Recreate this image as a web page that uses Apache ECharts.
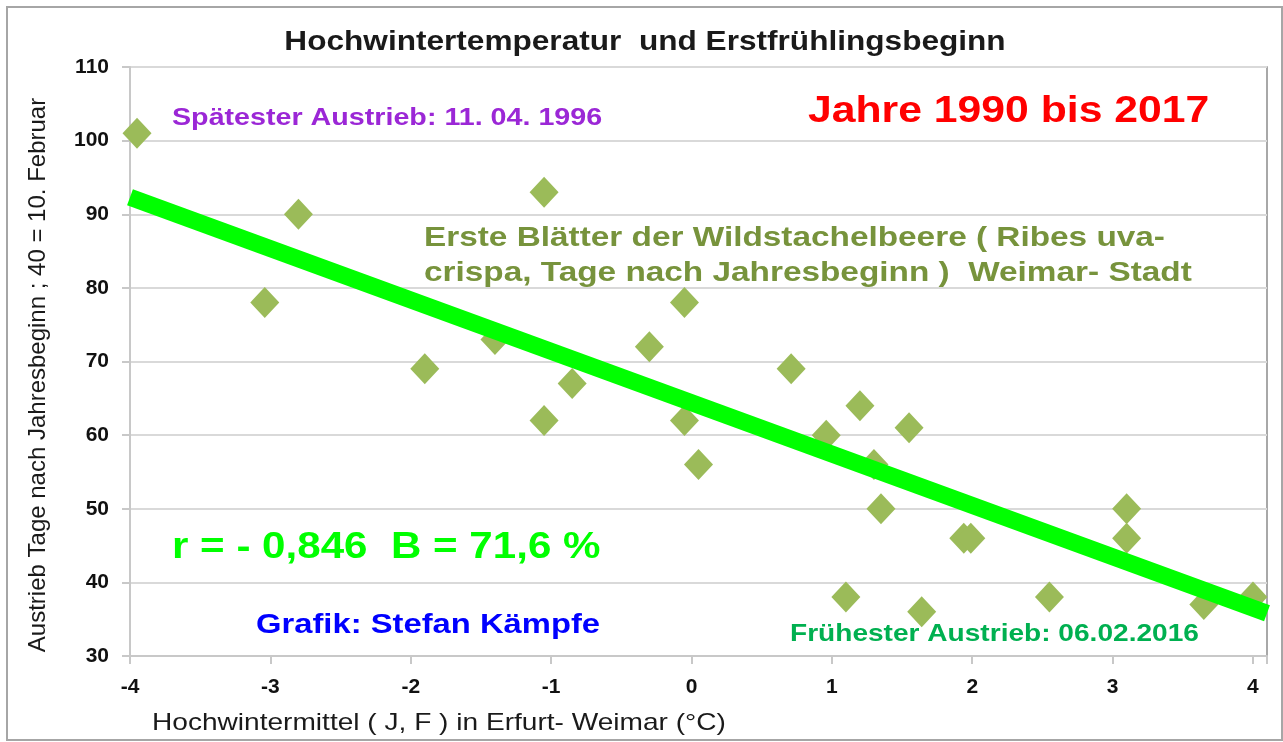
<!DOCTYPE html>
<html>
<head>
<meta charset="utf-8">
<title>Hochwintertemperatur und Erstfrühlingsbeginn</title>
<script src="https://cdn.jsdelivr.net/npm/echarts@6/dist/echarts.min.js"></script>
<style>
  html, body { margin: 0; padding: 0; background: #fff; }
  #chart { width: 1283px; height: 742px; }
</style>
</head>
<body>
<div id="chart"></div>
<script>
// Hochwintermittel (J, F) in Erfurt-Weimar, °C
const hochwinter = [-3.95, -3.04, -2.8, -1.9, -1.4, -1.05, -1.05, -0.85, -0.3, -0.05,
  -0.05, 0.05, 0.71, 0.96, 1.2, 1.3, 1.35, 1.55, 1.1, 1.64,
  1.94, 1.99, 2.55, 3.1, 3.1, 3.65, 4.0]
// Austrieb Wildstachelbeere, Tage nach Jahresbeginn
const austrieb = [101, 78, 90, 69, 73, 93, 62, 67, 72, 78,
  62, 56, 69, 60, 64, 56, 50, 61, 38, 36,
  46, 46, 38, 50, 46, 37, 38]
// lineare Trendlinie (Endpunkte)
const trendX = [-4, 4.1]
const trendY = [92.3, 35.8]
// Achsen
const xRange = [-4, 4.1]
const yRange = [30, 110]

const FONT = "'Liberation Sans', Arial, sans-serif"
const SX = 1.17 // Bild ist waagerecht etwas gestreckt

const chart = echarts.init(document.getElementById('chart'))

const txt = (text, x, y, size, color, opts = {}) => ({
  type: 'text',
  x, y,
  scaleX: opts.rot ? 1 : SX,
  rotation: opts.rot || 0,
  z: 100,
  style: {
    text,
    fill: color,
    fontFamily: FONT,
    fontSize: size,
    fontWeight: opts.weight || 'bold',
    align: opts.align || 'left',
    verticalAlign: 'middle',
    lineHeight: opts.lineHeight
  }
})

chart.setOption({
  backgroundColor: '#fff',
  animation: false,
  grid: {
    left: 130, right: 16, top: 67, bottom: 86,
    show: true,
    borderColor: '#8c8c8c',
    borderWidth: 1.5
  },
  xAxis: {
    type: 'value',
    min: xRange[0], max: xRange[1], interval: 1,
    axisLine: { onZero: false, lineStyle: { color: '#c8c8c8', width: 2 } },
    axisTick: { show: true, length: 8, lineStyle: { color: '#c8c8c8', width: 2 } },
    splitLine: { show: false },
    axisLabel: {
      margin: 21,
      color: '#111',
      fontFamily: FONT, fontWeight: 'bold', fontSize: 21,
      formatter: v => Number.isInteger(v) ? String(v) : ''
    }
  },
  yAxis: {
    type: 'value',
    min: yRange[0], max: yRange[1], interval: 10,
    axisLine: { show: true, onZero: false, lineStyle: { color: '#c8c8c8', width: 2 } },
    axisTick: { show: true, length: 8, lineStyle: { color: '#c8c8c8', width: 2 } },
    splitLine: { lineStyle: { color: '#d9d9d9', width: 2 } },
    axisLabel: {
      margin: 21,
      color: '#111',
      fontFamily: FONT, fontWeight: 'bold', fontSize: 21
    }
  },
  series: [
    {
      type: 'scatter',
      symbol: 'diamond',
      symbolSize: [29, 31],
      itemStyle: { color: '#9bbb59', opacity: 1 },
      data: hochwinter.map((x, i) => [x, austrieb[i]]),
      z: 2
    },
    {
      type: 'line',
      showSymbol: false,
      symbol: 'none',
      lineStyle: { color: '#00ff00', width: 17, cap: 'butt' },
      data: trendX.map((x, i) => [x, trendY[i]]),
      clip: true,
      z: 3
    }
  ],
  graphic: [
    {
      type: 'rect',
      shape: { x: 7, y: 7, width: 1275, height: 733 },
      style: { fill: null, stroke: '#a6a6a6', lineWidth: 2 },
      z: 0
    },
    txt('Hochwintertemperatur  und Erstfrühlingsbeginn', 645, 43, 27, '#1a1a1a', { align: 'center' }),
    txt('Spätester Austrieb: 11. 04. 1996', 172, 118, 24.5, '#9b27d6'),
    txt('Jahre 1990 bis 2017', 808, 112, 36.5, '#ff0000'),
    txt('Erste Blätter der Wildstachelbeere ( Ribes uva-\ncrispa, Tage nach Jahresbeginn )  Weimar- Stadt',
      424, 256, 28.5, '#77933c', { lineHeight: 35 }),
    txt('r = - 0,846  B = 71,6 %', 172, 548, 36, '#00ff00'),
    txt('Grafik: Stefan Kämpfe', 256, 625, 28, '#0000ff'),
    txt('Frühester Austrieb: 06.02.2016', 790, 634, 24, '#00b050'),
    txt('Hochwintermittel ( J, F ) in Erfurt- Weimar (°C)', 152, 723, 24, '#1a1a1a', { weight: 'normal' }),
    txt('Austrieb Tage nach Jahresbeginn ; 40 = 10. Februar', 38, 375, 24, '#1a1a1a',
      { weight: 'normal', align: 'center', rot: Math.PI / 2 })
  ]
})
</script>
</body>
</html>
